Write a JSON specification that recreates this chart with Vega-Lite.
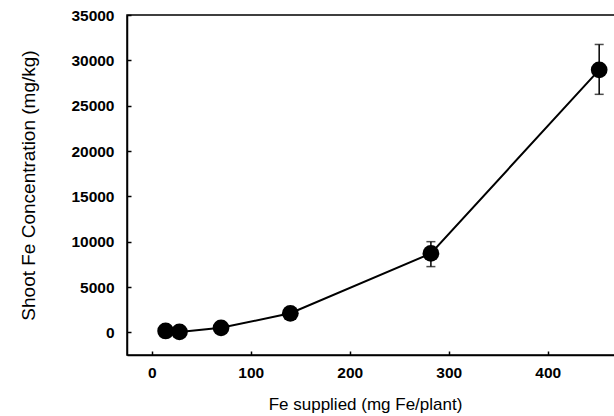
{
  "$schema": "https://vega.github.io/schema/vega-lite/v6.json",
  "autosize": "none",
  "width": 490,
  "height": 340,
  "padding": {"left": 127, "top": 15, "right": 0, "bottom": 61},
  "background": "white",
  "config": {
    "view": {"stroke": "black", "strokeWidth": 1.5},
    "font": "Liberation Sans"
  },
  "data": {
    "values": [
      {"fe": 14, "conc": 150},
      {"fe": 28, "conc": 50},
      {"fe": 70, "conc": 500},
      {"fe": 140, "conc": 2100},
      {"fe": 282, "conc": 8700, "lo": 7250, "hi": 10000},
      {"fe": 452, "conc": 28950, "lo": 26250, "hi": 31750}
    ]
  },
  "encoding": {
    "x": {
      "field": "fe", "type": "quantitative",
      "scale": {"domain": [-25, 470], "nice": false, "zero": false},
      "axis": {
        "values": [0, 100, 200, 300, 400],
        "format": "d",
        "title": "Fe supplied (mg Fe/plant)",
        "titleFont": "Liberation Sans", "titleFontSize": 17, "titleFontWeight": "normal", "titleColor": "black",
        "titlePadding": 16,
        "titleX": 238,
        "labelFont": "Liberation Sans", "labelFontSize": 15.5, "labelFontWeight": "bold", "labelColor": "black",
        "labelPadding": 14,
        "tickSize": -4, "tickColor": "black", "tickWidth": 1.5,
        "domainColor": "black", "domainWidth": 1.5, "grid": false
      }
    },
    "y": {
      "field": "conc", "type": "quantitative",
      "scale": {"domain": [-2500, 35000], "nice": false, "zero": false},
      "axis": {
        "values": [0, 5000, 10000, 15000, 20000, 25000, 30000, 35000],
        "format": "d",
        "title": "Shoot Fe Concentration (mg/kg)",
        "titleFont": "Liberation Sans", "titleFontSize": 19, "titleFontWeight": "normal", "titleColor": "black",
        "titlePadding": 32,
        "labelFont": "Liberation Sans", "labelFontSize": 15.5, "labelFontWeight": "bold", "labelColor": "black",
        "labelPadding": 17,
        "tickSize": -4, "tickColor": "black", "tickWidth": 1.5,
        "domainColor": "black", "domainWidth": 1.5, "grid": false
      }
    }
  },
  "layer": [
    {
      "mark": {"type": "rule", "color": "black", "strokeWidth": 1.5},
      "encoding": {"y": {"field": "lo", "type": "quantitative"}, "y2": {"field": "hi"}}
    },
    {
      "mark": {"type": "tick", "color": "black", "thickness": 1.5, "size": 9, "orient": "horizontal"},
      "encoding": {"y": {"field": "lo", "type": "quantitative"}}
    },
    {
      "mark": {"type": "tick", "color": "black", "thickness": 1.5, "size": 9, "orient": "horizontal"},
      "encoding": {"y": {"field": "hi", "type": "quantitative"}}
    },
    {
      "mark": {"type": "line", "color": "black", "strokeWidth": 2}
    },
    {
      "mark": {"type": "point", "filled": true, "color": "black", "opacity": 1, "size": 280}
    }
  ]
}
